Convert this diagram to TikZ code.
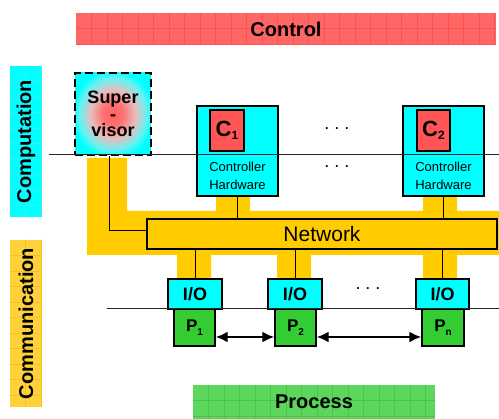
\documentclass[tikz,border=0pt]{standalone}
\usepackage{fontspec}
\setmainfont{Liberation Sans}
\usetikzlibrary{arrows.meta,calc}
\definecolor{ctrlred}{RGB}{255,102,102}
\definecolor{ctrlgrid}{RGB}{255,80,80}
\definecolor{cyanbg}{RGB}{0,255,255}
\definecolor{cyangrid}{RGB}{60,235,255}
\definecolor{commy}{RGB}{255,210,60}
\definecolor{commgrid}{RGB}{245,195,30}
\definecolor{netyellow}{RGB}{255,204,0}
\definecolor{cred}{RGB}{255,85,85}
\definecolor{pgreen}{RGB}{51,204,51}
\definecolor{procgreen}{RGB}{92,214,92}
\definecolor{procgrid}{RGB}{66,200,66}
\pgfdeclareradialshading{supshade}{\pgfpoint{0bp}{0bp}}{rgb(0bp)=(1,0.38,0.38); rgb(7bp)=(1,0.45,0.45); rgb(15bp)=(0.9,0.75,0.75); rgb(22bp)=(0.4,0.95,0.95); rgb(27bp)=(0,1,1); rgb(50bp)=(0,1,1)}
% #1,#2 = top-left, #3,#4 = bottom-right, #5 fill, #6 grid colour
\newcommand{\barwithgrid}[6]{%
  \fill[#5] (#1,#2) rectangle (#3,#4);
  \begin{scope}
    \clip (#1,#2) rectangle (#3,#4);
    \foreach \i in {1,...,30} {\draw[#6, line width=0.7pt] ({#1+15.5*\i},#2) -- ({#1+15.5*\i},#4);}
    \foreach \j in {1,...,12} {\draw[#6, line width=0.7pt] (#1,{#2+15.5*\j}) -- (#3,{#2+15.5*\j});}
  \end{scope}}
\begin{document}
\begin{tikzpicture}[x=1pt,y=-1pt,
  bigbold/.style={font=\bfseries\fontsize{20}{24}\selectfont, inner sep=0pt},
  box/.style={draw=black, line width=1.2pt, inner sep=0pt},
  conn/.style={draw=black, line width=1pt},
  sepline/.style={draw=black!85, line width=1pt},
  dblarrow/.style={{Latex[length=12pt,width=11pt]}-{Latex[length=12pt,width=11pt]}, line width=2.8pt},
  dotstxt/.style={font=\fontsize{18}{18}\selectfont, inner sep=0pt, anchor=base},
]
\useasboundingbox (0,0) rectangle (499,419);

% side and top/bottom bars
\barwithgrid{76}{13}{496}{45}{ctrlred}{ctrlgrid}
\barwithgrid{10}{66}{42}{217}{cyanbg}{cyangrid}
\barwithgrid{10}{240}{42}{407}{commy}{commgrid}
\barwithgrid{193}{385}{435}{419}{procgreen}{procgrid}
\node[bigbold] (control) at (286,29) {Control};
\node[bigbold] (comp) at (26,141.5) {\rotatebox{90}{Computation}};
\node[bigbold] (comm) at (26,323.5) {\rotatebox{90}{Communication}};
\node[bigbold] (process) at (314,402) {Process};

% yellow network band
\fill[netyellow] (87,158) -- (127,158) -- (127,211) -- (216,211) -- (216,196) -- (250,196) -- (250,211)
  -- (423,211) -- (423,196) -- (457,196) -- (457,211) -- (499,211) -- (499,255)
  -- (457,255) -- (457,279) -- (423,279) -- (423,255) -- (311,255) -- (311,279) -- (277,279) -- (277,255)
  -- (211,255) -- (211,279) -- (177,279) -- (177,255) -- (87,255) -- cycle;

% network
\node[box, fill=netyellow, minimum width=350pt, minimum height=30pt, font=\fontsize{21}{24}\selectfont] (net) at (322,234) {Network\hspace{9pt}};

% supervisor
\node[inner sep=0pt, minimum width=76pt, minimum height=82pt, shading=supshade,
  draw=black, line width=2.5pt, dash pattern=on 8pt off 4pt, align=center,
  font=\bfseries\fontsize{18}{16.5}\selectfont] (sup) at (113,114) {Super\\-\\visor};

% controllers
\node[box, fill=cyanbg, minimum width=81pt, minimum height=90pt] (c1) at (237.5,151) {};
\node[box, fill=cred, minimum width=34pt, minimum height=41pt, font=\bfseries\fontsize{22}{22}\selectfont] (c1r) at (227,130.5) {C\raisebox{-3pt}{\fontsize{12}{12}\selectfont 1}};
\node[align=center, font=\fontsize{13}{18}\selectfont, inner sep=0pt] (c1t) at (237.5,176) {Controller\\Hardware};

\node[box, fill=cyanbg, minimum width=81pt, minimum height=90pt] (c2) at (443.5,151) {};
\node[box, fill=cred, minimum width=33pt, minimum height=41pt, font=\bfseries\fontsize{22}{22}\selectfont] (c2r) at (433.5,130.5) {C\raisebox{-3pt}{\fontsize{12}{12}\selectfont 2}};
\node[align=center, font=\fontsize{13}{18}\selectfont, inner sep=0pt] (c2t) at (443.5,176) {Controller\\Hardware};

% I/O and process boxes
\node[box, fill=cyanbg, minimum width=54pt, minimum height=30pt, font=\bfseries\fontsize{18}{18}\selectfont] (io1) at (195,294) {I/O};
\node[box, fill=cyanbg, minimum width=54pt, minimum height=30pt, font=\bfseries\fontsize{18}{18}\selectfont] (io2) at (295,294) {I/O};
\node[box, fill=cyanbg, minimum width=53pt, minimum height=30pt, font=\bfseries\fontsize{18}{18}\selectfont] (ion) at (442.5,294) {I/O};
\node[box, fill=pgreen, minimum width=41pt, minimum height=37pt, font=\bfseries\fontsize{17}{17}\selectfont] (p1) at (194.5,327.5) {P\raisebox{-4pt}{\fontsize{10}{10}\selectfont 1}};
\node[box, fill=pgreen, minimum width=41pt, minimum height=37pt, font=\bfseries\fontsize{17}{17}\selectfont] (p2) at (295.5,327.5) {P\raisebox{-4pt}{\fontsize{10}{10}\selectfont 2}};
\node[box, fill=pgreen, minimum width=42pt, minimum height=37pt, font=\bfseries\fontsize{17}{17}\selectfont] (pn) at (443,327.5) {P\raisebox{-4pt}{\fontsize{10}{10}\selectfont n}};

% connectors
\coordinate (supx) at (109,231);
\draw[conn] (sup.south -| supx) |- (net.west |- supx);
\draw[conn] (c1.south) -- (c1.south |- net.north);
\draw[conn] (c2.south) -- (c2.south |- net.north);
\draw[conn] (io1.north) -- (io1.north |- net.south);
\draw[conn] (io2.north) -- (io2.north |- net.south);
\draw[conn] (ion.north) -- (ion.north |- net.south);

% layer separation lines
\coordinate (l1a) at (49,155);
\coordinate (l1b) at (499,155);
\coordinate (l2a) at (107,309);
\coordinate (l2b) at (499,309);
\draw[sepline] (l1a) -- (l1b);
\draw[sepline] (l2a) -- (l2b);

% dots
\node[dotstxt] (d1) at (337,129.5) {.\hspace{5pt}.\hspace{5pt}.};
\node[dotstxt] (d2) at (337,167.5) {.\hspace{5pt}.\hspace{5pt}.};
\node[dotstxt] (d3) at (368,290) {.\hspace{5pt}.\hspace{5pt}.};

% process links
\draw[dblarrow] ([yshift=-9.5pt]p1.east) -- ([yshift=-9.5pt]p2.west);
\draw[dblarrow] ([yshift=-9.5pt]p2.east) -- ([yshift=-9.5pt]pn.west);
\end{tikzpicture}
\end{document}
